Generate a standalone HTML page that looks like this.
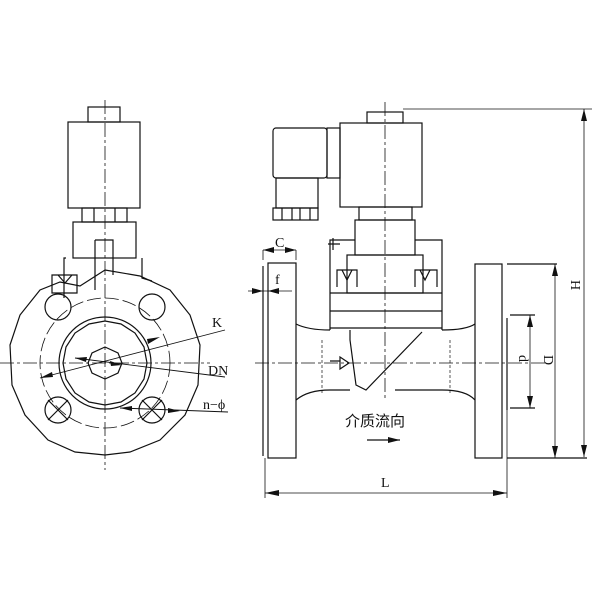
<!DOCTYPE html>
<html><head><meta charset="utf-8"><style>
html,body{margin:0;padding:0;background:#fff;}
svg{display:block;}
text{font-family:"Liberation Serif",serif;fill:#111;}
</style></head><body>
<svg width="600" height="600" viewBox="0 0 600 600" xmlns="http://www.w3.org/2000/svg">
<g fill="none" stroke="#111" stroke-width="1.2">
<!-- LEFT VIEW -->
<line x1="105" y1="100" x2="105" y2="470" stroke-dasharray="14,3,3,3" stroke-width="0.8"/>
<line x1="0" y1="363" x2="210" y2="363" stroke-dasharray="14,3,3,3" stroke-width="0.8"/>
<rect x="88" y="107" width="32" height="15"/>
<rect x="68" y="122" width="72" height="86"/>
<rect x="82" y="208" width="45" height="14"/>
<line x1="94" y1="208" x2="94" y2="222"/><line x1="115" y1="208" x2="115" y2="222"/>
<rect x="73" y="222" width="63" height="36"/>
<path d="M95 240 h18 v35 M95 240 v50"/>
<path d="M52 275 h25 v18 h-25z M58 275 l7 8 l7-8"/>
<path d="M66 258 h-2 v40 M142 258 v20 l10 3"/>
<polygon points="105,270 140,276 170,290 190,315 200,345 198,385 185,415 160,440 130,452 105,455 75,452 48,440 25,415 12,385 10,345 20,315 40,290 60,282 80,286 105,270"/>
<circle cx="105" cy="363" r="65" stroke-dasharray="14,4" stroke-width="0.8"/>
<circle cx="105" cy="363" r="46"/>
<polygon points="105,321 121,324 135,333 144,347 147,363 144,379 135,393 121,402 105,405 89,402 75,393 66,379 63,363 66,347 75,333 89,324"/>
<polygon points="105,347 118,353 122,363 118,373 105,379 92,373 88,363 92,353"/>
<circle cx="58" cy="307" r="13"/><circle cx="152" cy="307" r="13"/>
<circle cx="58" cy="410" r="13"/><circle cx="152" cy="410" r="13"/>
<path d="M48 400 l20 20 M68 400 l-20 20 M142 400 l20 20 M162 400 l-20 20"/>
<line x1="40" y1="378" x2="225" y2="330" stroke-width="0.9"/>
<line x1="75" y1="358" x2="225" y2="377" stroke-width="0.9"/>
<line x1="120" y1="408" x2="228" y2="412" stroke-width="0.9"/>
</g>
<g fill="#111">
<polygon points="40,378 52,372 53,377"/>
<polygon points="160,337 148,344 147,339"/>
<polygon points="75,358 87,357 86,362"/>
<polygon points="122,365 110,361 111,366"/>
<polygon points="120,408 132,406 132,411"/>
<polygon points="180,411 168,408 168,413"/>
</g>
<text x="212" y="327" font-size="14">K</text>
<text x="208" y="375" font-size="14">DN</text>
<text x="203" y="409" font-size="14">n−ϕ</text>

<!-- RIGHT VIEW -->
<g fill="none" stroke="#111" stroke-width="1.2">
<line x1="385" y1="102" x2="385" y2="400" stroke-dasharray="14,3,3,3" stroke-width="0.8"/>
<line x1="255" y1="363" x2="545" y2="363" stroke-dasharray="14,3,3,3" stroke-width="0.8"/>
<line x1="403" y1="109" x2="592" y2="109" stroke-width="0.8"/>
<rect x="367" y="112" width="36" height="11"/>
<rect x="340" y="123" width="82" height="84"/>
<rect x="327" y="128" width="13" height="50"/>
<rect x="273" y="128" width="54" height="50" rx="3"/>
<rect x="276" y="178" width="42" height="30"/>
<rect x="273" y="208" width="45" height="12"/>
<path d="M282 208 v12 M292 208 v12 M300 208 v12 M310 208 v12"/>
<rect x="359" y="207" width="53" height="13"/>
<rect x="355" y="220" width="60" height="35"/>
<path d="M355 240 h-25 v90 M415 240 h27 v90"/>
<rect x="347" y="255" width="76" height="38"/>
<path d="M330 293 h112 M330 311 h112 M330 328 h112"/>
<path d="M337 287 v-17 h20 v17 M415 287 v-17 h22 v17"/>
<path d="M342 270 l5 10 l5-10 M420 270 l5 10 l5-10"/>
<path d="M340 244 h-12 M333 238 v12"/>
<path d="M296 324 q12 6 34 6 M442 330 q24 0 33 -6"/>
<path d="M296 400 q12 -10 34 -10 h20 M395 390 h47 q24 0 33 10"/>
<path d="M350 330 v10 l6 45 l10 5 l56 -58"/>
<path d="M322 340 v55 M450 340 v55" stroke-dasharray="3,2" stroke-width="0.7"/>
<path d="M330 361 h10 M340 357 l9 6 l-9 6z"/>
<rect x="268" y="263" width="28" height="195"/>
<line x1="263" y1="266" x2="263" y2="456"/>
<rect x="475" y="264" width="27" height="194"/>
<line x1="507" y1="318" x2="507" y2="410"/>
<path d="M507 264 h50 M507 458 h80 M510 315 h25 M510 408 h25"/>
<line x1="555" y1="264" x2="555" y2="458" stroke-width="0.8"/>
<line x1="530" y1="315" x2="530" y2="408" stroke-width="0.8"/>
<line x1="584" y1="109" x2="584" y2="457" stroke-width="0.8"/>
<line x1="265" y1="458" x2="265" y2="498" stroke-width="0.8"/>
<line x1="507" y1="410" x2="507" y2="498" stroke-width="0.8"/>
<line x1="265" y1="493" x2="507" y2="493" stroke-width="0.8"/>
<line x1="263" y1="250" x2="296" y2="250" stroke-width="0.8"/>
<line x1="263" y1="250" x2="263" y2="260" stroke-width="0.8"/><line x1="296" y1="250" x2="296" y2="260" stroke-width="0.8"/>
<line x1="248" y1="291" x2="292" y2="291" stroke-width="0.8"/>
<line x1="367" y1="440" x2="400" y2="440"/>
</g>
<g fill="#111">
<polygon points="265,493 279,490 279,496"/><polygon points="507,493 493,490 493,496"/>
<polygon points="555,264 552,276 558,276"/><polygon points="555,458 552,446 558,446"/>
<polygon points="530,315 527,327 533,327"/><polygon points="530,408 527,396 533,396"/>
<polygon points="584,109 581,121 587,121"/><polygon points="584,457 581,445 587,445"/>
<polygon points="263,250 274,247 274,253"/><polygon points="296,250 285,247 285,253"/>
<polygon points="263,291 252,288 252,294"/><polygon points="268,291 279,288 279,294"/>
<polygon points="400,440 388,437 388,443"/>
</g>
<text x="275" y="247" font-size="14">C</text>
<text x="275" y="284" font-size="14">f</text>
<text x="381" y="487" font-size="14">L</text>
<text x="0" y="0" font-size="14" transform="translate(519,355) rotate(90)">d</text>
<text x="0" y="0" font-size="14" transform="translate(544,355) rotate(90)">D</text>
<text x="0" y="0" font-size="14" transform="translate(571,280) rotate(90)">H</text>
<text x="345" y="426" font-size="15" style="font-family:'Liberation Sans','Noto Sans CJK SC',sans-serif">介质流向</text>
</svg>
</body></html>
